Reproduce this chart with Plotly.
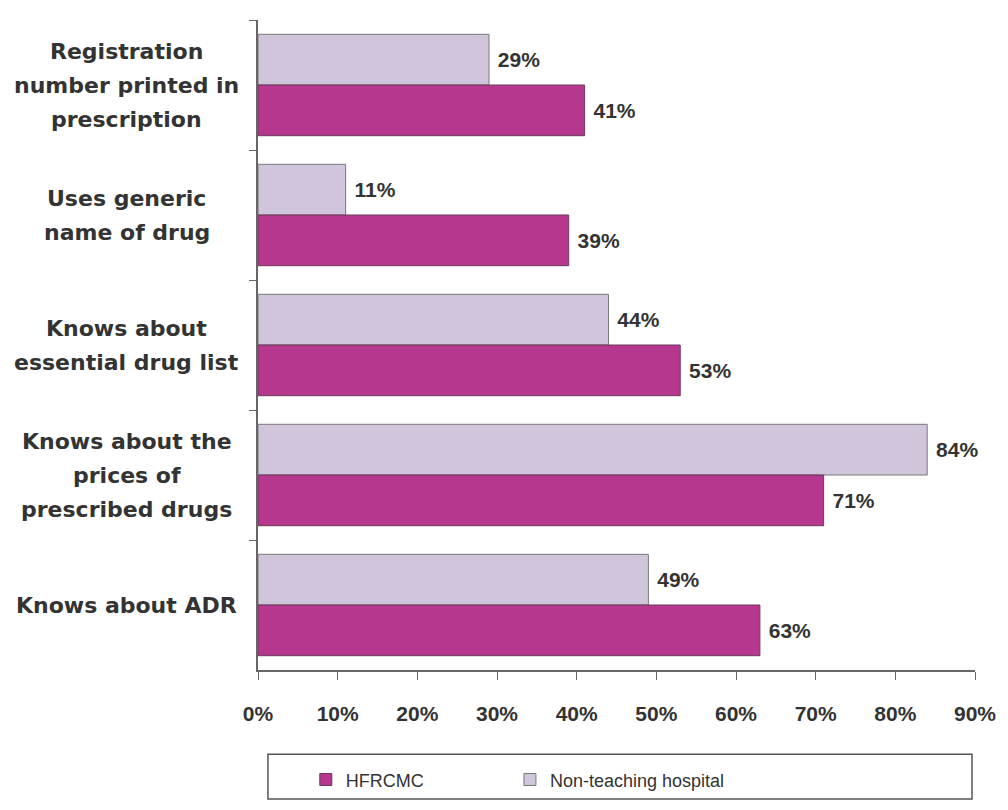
import plotly.graph_objects as go

categories = [
    "Registration number printed in prescription",
    "Uses generic name of drug",
    "Knows about essential drug list",
    "Knows about the prices of prescribed drugs",
    "Knows about ADR",
]
category_lines = [
    ["Registration", "number printed in", "prescription"],
    ["Uses generic", "name of drug"],
    ["Knows about", "essential drug list"],
    ["Knows about the", "prices of", "prescribed drugs"],
    ["Knows about ADR"],
]
hfrcmc = [41, 39, 53, 71, 63]
non_teaching = [29, 11, 44, 84, 49]
x_ticks = [0, 10, 20, 30, 40, 50, 60, 70, 80, 90]

MAGENTA = "#B5388E"
LAVENDER = "#D0C5DA"
TEXT = "#333333"
BOLD_FONT = "Arial, Liberation Sans"
LABEL_FONT = "DejaVu Sans"

fig = go.Figure()
fig.add_trace(go.Bar(
    y=categories, x=non_teaching, orientation="h", name="Non-teaching hospital",
    marker=dict(color=LAVENDER, line=dict(color="#7a7a7a", width=1)),
    text=[f" {v}%" for v in non_teaching], textposition="outside",
    textfont=dict(size=21, color=TEXT, family=BOLD_FONT, weight="bold"),
    cliponaxis=False, legend="legend2",
))
fig.add_trace(go.Bar(
    y=categories, x=hfrcmc, orientation="h", name="HFRCMC",
    marker=dict(color=MAGENTA, line=dict(color="#6a3a5a", width=1)),
    text=[f" {v}%" for v in hfrcmc], textposition="outside",
    textfont=dict(size=21, color=TEXT, family=BOLD_FONT, weight="bold"),
    cliponaxis=False, legend="legend",
))

LINE_STEP = 34
for cat, lines in zip(categories, category_lines):
    n = len(lines)
    for i, line in enumerate(lines):
        fig.add_annotation(
            x=-0.183, xref="paper", y=cat, yref="y", text=line, showarrow=False,
            xanchor="center", yanchor="middle", align="center",
            yshift=((n - 1) / 2 - i) * LINE_STEP,
            font=dict(size=22, color=TEXT, family=LABEL_FONT, weight="bold"),
        )

# legend frame
fig.add_shape(type="rect", xref="paper", yref="paper",
              x0=(268 - 258) / 720, x1=(975 - 258) / 720,
              y0=(675 - 760) / 655, y1=(675 - 805) / 655,
              line=dict(color="#555555", width=1.5), fillcolor="rgba(0,0,0,0)")

legend_common = dict(orientation="h", xanchor="left",
                     y=(675 - 767) / 655, yanchor="top",
                     font=dict(size=18, color=TEXT, family="Arial, Liberation Sans"),
                     bgcolor="rgba(0,0,0,0)", borderwidth=0)

fig.update_layout(
    width=1008, height=810,
    margin=dict(l=258, r=30, t=20, b=135),
    paper_bgcolor="white", plot_bgcolor="white",
    barmode="group", bargap=0.22, bargroupgap=0,
    showlegend=True,
    legend=dict(x=(306 - 258) / 720, **legend_common),
    legend2=dict(x=(511 - 258) / 720, **legend_common),
    xaxis=dict(range=[0, 90], tickvals=x_ticks, ticktext=[f"{v}%" for v in x_ticks],
               showgrid=False, zeroline=False, showline=True, linecolor="#666666", linewidth=1.5,
               ticks="outside", ticklen=8, tickcolor="#666666", ticklabelstandoff=16,
               tickfont=dict(size=21, color=TEXT, family=BOLD_FONT, weight="bold")),
    yaxis=dict(autorange="reversed", showgrid=False, zeroline=False, showline=True,
               linecolor="#666666", linewidth=1.5, ticks="outside", ticklen=7,
               tickcolor="#666666", tickson="boundaries", showticklabels=False),
)

fig.write_html("out.html")
